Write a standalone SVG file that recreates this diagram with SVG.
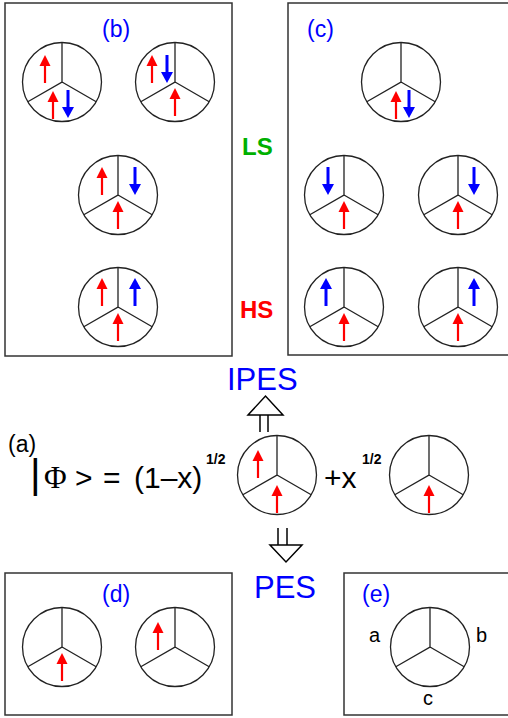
<svg xmlns="http://www.w3.org/2000/svg" xmlns:xlink="http://www.w3.org/1999/xlink" width="508" height="718" viewBox="0 0 508 718">
<style>
.box{fill:none;stroke:#333;stroke-width:1.5}
.wh{fill:none;stroke:#222;stroke-width:1.3}
.r{fill:#ff0000;stroke:#ff0000}
.b{fill:#0000ff;stroke:#0000ff}
.t{font-family:"Liberation Sans",Arial,sans-serif}
.lab{font-family:"Liberation Sans",Arial,sans-serif;font-size:23px;fill:#0000ff}
.big{font-family:"Liberation Sans",Arial,sans-serif;font-size:31px;fill:#0000ff}
.eq{font-family:"Liberation Sans",Arial,sans-serif;font-size:30px;fill:#000}
.oa{fill:#fff;stroke:#000;stroke-width:1.5}
.sh{stroke:#000;stroke-width:1.5}
</style>
<defs>
<g id="wheel" class="wh">
<circle cx="0" cy="0" r="39.5"/>
<path d="M0,-39.5 L0,0 L-34.2,19.75 M0,0 L34.2,19.75"/>
</g>
<g id="up">
<line x1="0" y1="10" x2="0" y2="28" stroke-width="2.2"/>
<polygon points="-5.5,11 5.5,11 0,0" stroke="none"/>
</g>
<g id="dn">
<line x1="0" y1="0" x2="0" y2="18" stroke-width="3"/>
<polygon points="-6,17 6,17 0,28" stroke="none"/>
</g>
<g id="ub">
<line x1="0" y1="10" x2="0" y2="28" stroke-width="3"/>
<polygon points="-6,11 6,11 0,0" stroke="none"/>
</g>
</defs>

<g id="panel-b">
<rect class="box" x="5" y="3" width="227" height="353"/>
<text class="lab" x="102" y="37">(b)</text>
<g id="b1"><use href="#wheel" x="62" y="82"/><use href="#up" class="r" x="45" y="55"/><use href="#up" class="r" x="53" y="91"/><use href="#dn" class="b" x="68" y="90"/></g>
<g id="b2"><use href="#wheel" x="175" y="82"/><use href="#up" class="r" x="152" y="55"/><use href="#dn" class="b" x="167" y="55"/><use href="#up" class="r" x="175" y="88"/></g>
<g id="b3"><use href="#wheel" x="118" y="195"/><use href="#up" class="r" x="102" y="167"/><use href="#dn" class="b" x="135" y="167"/><use href="#up" class="r" x="118" y="201"/></g>
<g id="b4"><use href="#wheel" x="118" y="307"/><use href="#up" class="r" x="102" y="278"/><use href="#ub" class="b" x="135" y="278"/><use href="#up" class="r" x="118" y="313"/></g>
</g>

<g id="panel-c">
<rect class="box" x="288" y="3" width="240" height="352"/>
<text class="lab" x="307" y="37">(c)</text>
<g id="c1"><use href="#wheel" x="401" y="82"/><use href="#up" class="r" x="396" y="91"/><use href="#dn" class="b" x="409" y="90"/></g>
<g id="c2"><use href="#wheel" x="344" y="195"/><use href="#dn" class="b" x="328" y="167"/><use href="#up" class="r" x="344" y="201"/></g>
<g id="c3"><use href="#wheel" x="458" y="195"/><use href="#dn" class="b" x="474" y="167"/><use href="#up" class="r" x="458" y="201"/></g>
<g id="c4"><use href="#wheel" x="344" y="307"/><use href="#ub" class="b" x="326" y="278"/><use href="#up" class="r" x="344" y="313"/></g>
<g id="c5"><use href="#wheel" x="458" y="307"/><use href="#ub" class="b" x="474" y="278"/><use href="#up" class="r" x="458" y="313"/></g>
</g>

<g id="labels-ls-hs">
<text class="t" x="242" y="155" font-size="24" font-weight="bold" fill="#00b000">LS</text>
<text class="t" x="240" y="318" font-size="24" font-weight="bold" fill="#ff0000">HS</text>
</g>

<g id="panel-a">
<text class="t" x="8" y="452" font-size="23" fill="#000">(a)</text>
<text class="t" x="30" y="488" font-size="41" fill="#000">|</text>
<text x="44" y="488" font-family="'Liberation Serif','Times New Roman',serif" font-size="31" fill="#000">Φ</text>
<text class="eq" x="75" y="488">&gt;</text>
<text class="eq" x="103" y="488">=</text>
<text class="eq" x="134" y="488">(1–x)</text>
<text class="t" x="206" y="464" font-size="14" font-weight="bold" fill="#000">1/2</text>
<g id="a1"><use href="#wheel" x="277" y="475"/><use href="#up" class="r" x="258" y="450"/><use href="#up" class="r" x="277" y="485"/></g>
<text class="eq" x="324" y="488">+x</text>
<text class="t" x="362" y="464" font-size="14" font-weight="bold" fill="#000">1/2</text>
<g id="a2"><use href="#wheel" x="429" y="475"/><use href="#up" class="r" x="429" y="485"/></g>
</g>

<g id="ipes"><text class="big" x="227" y="390">IPES</text></g>
<g id="pes"><text class="big" x="254" y="598">PES</text></g>

<g id="connectors">
<line class="sh" x1="260" y1="414" x2="260" y2="432"/>
<line class="sh" x1="268" y1="414" x2="268" y2="432"/>
<polygon class="oa" points="248,415 283,415 265.5,396"/>
<line class="sh" x1="278" y1="528" x2="278" y2="546"/>
<line class="sh" x1="287" y1="528" x2="287" y2="546"/>
<polygon class="oa" points="270,545 302,545 286,562"/>
</g>

<g id="panel-d">
<rect class="box" x="5" y="573" width="227" height="142"/>
<text class="lab" x="102" y="602">(d)</text>
<g id="d1"><use href="#wheel" x="62" y="647"/><use href="#up" class="r" x="62" y="653"/></g>
<g id="d2"><use href="#wheel" x="175" y="647"/><use href="#up" class="r" x="158" y="622"/></g>
</g>

<g id="panel-e">
<rect class="box" x="344" y="573" width="180" height="142"/>
<text class="lab" x="362" y="602">(e)</text>
<g id="e1"><use href="#wheel" x="430" y="647"/></g>
<text class="t" x="369" y="642" font-size="20" fill="#000">a</text>
<text class="t" x="476" y="642" font-size="20" fill="#000">b</text>
<text class="t" x="423" y="705" font-size="20" fill="#000">c</text>
</g>
</svg>
